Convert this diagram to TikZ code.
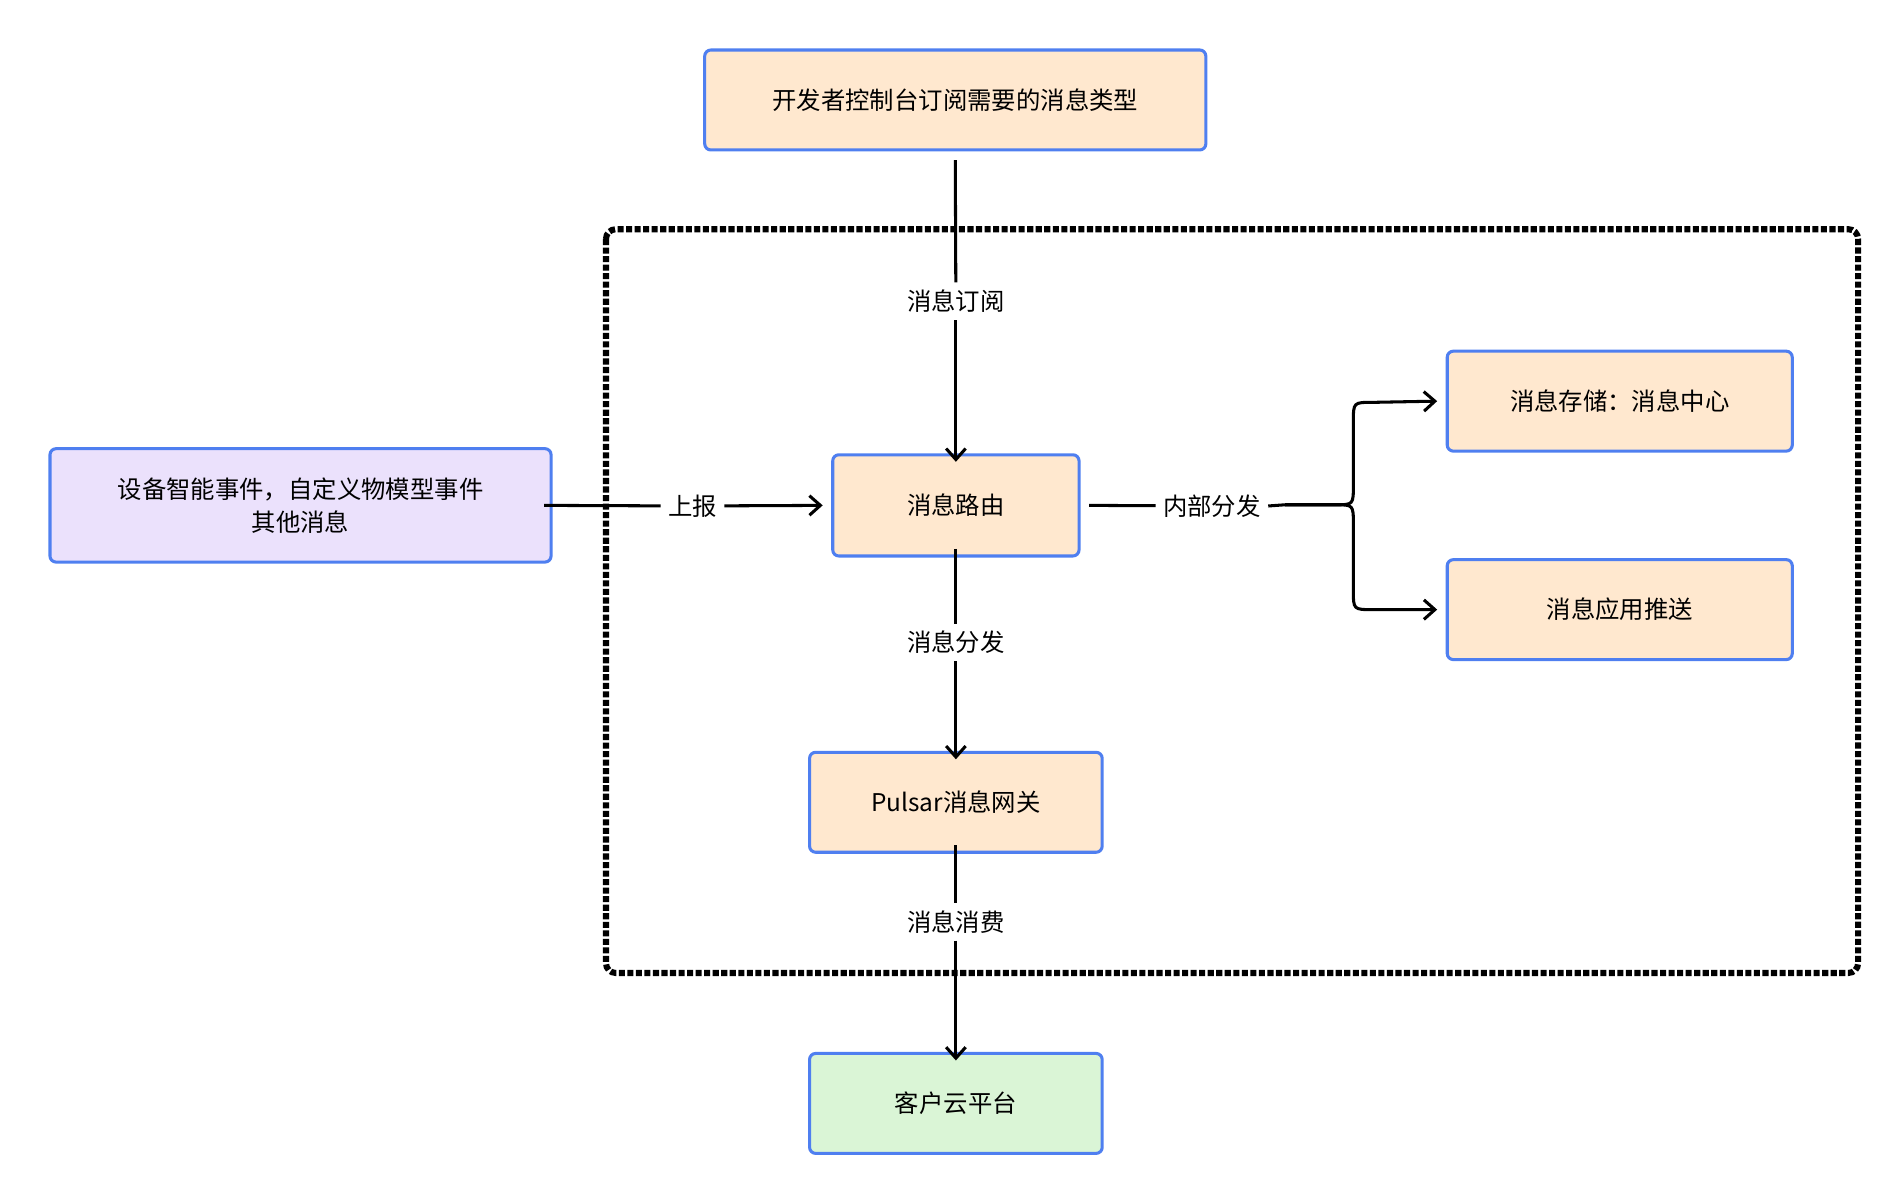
\documentclass[tikz,border=0pt]{standalone}
\usepackage{fontspec}
\newfontfamily\cjk{Noto Sans CJK SC}
\usetikzlibrary{arrows.meta}
\definecolor{bord}{HTML}{4F7FF0}
\definecolor{peach}{HTML}{FFE8CF}
\definecolor{lav}{HTML}{EBE1FC}
\definecolor{mint}{HTML}{DAF5D6}
\begin{document}
\begin{tikzpicture}[x=1pt,y=-1pt,
  box/.style={draw=bord,line width=2.5pt,rounded corners=5pt,fill=peach,font=\cjk\fontsize{20}{27}\selectfont,align=center},
  lab/.style={font=\cjk\fontsize{20}{24}\selectfont,inner sep=6pt},
  ln/.style={line width=2.5pt},
  arr/.style={ln,-{Straight Barb[length=9pt,width=16pt]}}]
\useasboundingbox (0,0) rectangle (1560,983);
\draw[line width=5pt,dotted,rounded corners=8pt] (497,188) rectangle (1524,798);
\node[box,minimum width=411pt,minimum height=82pt] (top) at (783.5,82) {开发者控制台订阅需要的消息类型};
\node[box,fill=lav,minimum width=411pt,minimum height=93pt] (left) at (246.5,414.5) {设备智能事件，自定义物模型事件\\其他消息};
\node[box,minimum width=202pt,minimum height=83pt] (route) at (784,414.5) {消息路由};
\node[box,minimum width=283pt,minimum height=82pt] (store) at (1328.5,329) {消息存储：消息中心};
\node[box,minimum width=283pt,minimum height=82pt] (push) at (1328.5,500) {消息应用推送};
\node[box,minimum width=240pt,minimum height=82pt] (pulsar) at (784,658) {Pulsar消息网关};
\node[box,fill=mint,minimum width=240pt,minimum height=82pt] (cloud) at (784,905) {客户云平台};
\node[lab] (l1) at (784,247) {消息订阅};
\node[lab] (l2) at (568,415) {上报};
\node[lab] (l3) at (994,415) {内部分发};
\node[lab] (l4) at (784,527) {消息分发};
\node[lab] (l5) at (784,756) {消息消费};
\draw[ln] ([yshift=-7pt]top.south) -- (l1);
\draw[arr] (l1) -- ([yshift=-7pt]route.north);
\draw[ln] ([xshift=-7pt]left.east) -- (l2);
\draw[arr] (l2) -- ([xshift=-7pt]route.west);
\draw[ln] ([xshift=7pt]route.east) -- (l3);
\coordinate (br) at (1054,414);
\draw[ln] (l3.east) -- (br);
\draw[arr] (br) -- (1095,414) .. controls (1110,414) .. (1110,398) -- (1110,346) .. controls (1110,330) .. (1126,330) -- ([xshift=-7pt]store.west);
\draw[arr] (br) -- (1095,414) .. controls (1110,414) .. (1110,430) -- (1110,484) .. controls (1110,500) .. (1126,500) -- ([xshift=-7pt]push.west);
\draw[ln] ([yshift=7pt]route.south) -- (l4);
\draw[arr] (l4) -- ([yshift=-7pt]pulsar.north);
\draw[ln] ([yshift=7pt]pulsar.south) -- (l5);
\draw[arr] (l5) -- ([yshift=-7pt]cloud.north);
\end{tikzpicture}
\end{document}
